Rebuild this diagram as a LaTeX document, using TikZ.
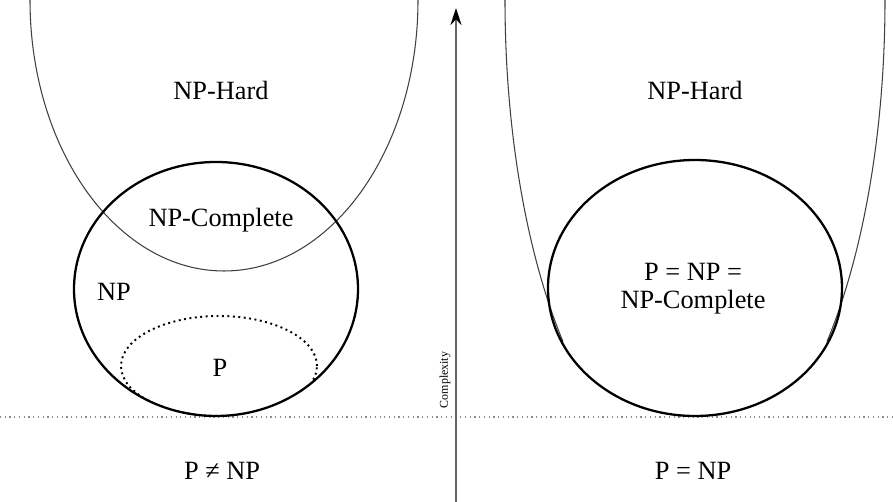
\documentclass[tikz,border=0pt]{standalone}
\usepackage{fontspec}
\setmainfont{Liberation Serif}
\newfontfamily\lblfont{Liberation Serif}
\usetikzlibrary{arrows.meta}

\begin{document}
\begin{tikzpicture}[
    x=0.02cm, y=0.02cm,
    lbl/.style={font=\lblfont\fontsize{15}{16}\selectfont, align=center, inner sep=1pt},
    axlbl/.style={font=\lblfont\fontsize{6.8}{8}\selectfont, rotate=90, inner sep=1pt},
    setline/.style={draw=black, line width=1.3pt},
    pline/.style={draw=black, dotted, line width=1.1pt},
    hardline/.style={draw=black!75, line width=0.6pt},
    axisline/.style={draw=black!60, line width=1pt, -{Stealth[length=3.4mm, width=2.2mm, black]}},
    baseln/.style={draw=black!45, dotted, line width=0.7pt}
  ]
    \useasboundingbox (0,0) rectangle (893,-502);

    % --- Achse und Grundlinie ---
    \coordinate (blL) at (0,-417);
    \coordinate (blR) at (893,-417);
    \coordinate (axB) at (456,-502);
    \coordinate (axT) at (456,-8);
    \draw[baseln] (blL) -- (blR);
    \draw[axisline] (axB) -- (axT);
    \node[axlbl] (cplx) at (445,-380) {Complexity};

    % --- P != NP ---
    \draw[hardline] (30,0) arc[start angle=180, end angle=360, x radius=194, y radius=271];
    \draw[setline] (216,-289) ellipse [x radius=142, y radius=127];
    \begin{scope}
      \clip (216,-289) ellipse [x radius=142, y radius=127];
      \draw[pline] (219,-366) ellipse [x radius=98, y radius=50];
    \end{scope}
    \node[lbl] (hardL) at (221,-90)  {NP-Hard};
    \node[lbl] (npc)   at (221,-220) {NP-Complete};
    \node[lbl] (np)    at (114,-292) {NP};
    \node[lbl] (p)     at (220,-368) {P};
    \node[lbl] (neq)   at (222,-471) {P ≠ NP};

    % --- P = NP ---
    \draw[hardline] (505,0) arc[start angle=180, end angle=226, x radius=190, y radius=475];
    \draw[hardline] (885,0) arc[start angle=0, end angle=-46, x radius=190, y radius=475];
    \draw[setline] (695,-288) ellipse [x radius=147, y radius=128];
    \node[lbl] (hardR) at (695,-90)  {NP-Hard};
    \node[lbl] (all)   at (693,-289) {P = NP =\\NP-Complete};
    \node[lbl] (eqb)   at (693,-471) {P = NP};
\end{tikzpicture}
\end{document}
